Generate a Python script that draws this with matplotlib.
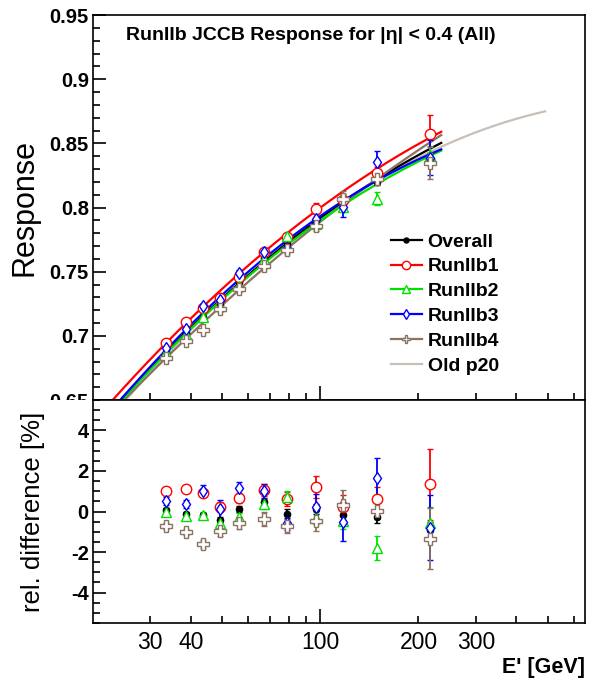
import numpy as np
import matplotlib
matplotlib.use("Agg")
import matplotlib.pyplot as plt
from matplotlib.ticker import FixedLocator, FuncFormatter, MultipleLocator, NullFormatter
from matplotlib.lines import Line2D
from matplotlib.patches import Rectangle

plt.rcParams['font.family'] = ['Liberation Sans', 'DejaVu Sans']

# energy bins [GeV]
energy = [33.5, 38.7, 43.7, 49, 56, 67, 79, 97, 117, 149, 217]

# relative difference to the overall fit [%]
diff_all = [0.07, -0.13, -0.15, -0.42, 0.13, 0.45, -0.1, 0.13, -0.15, -0.25, -0.9]
diff_b1 = [1.0, 1.1, 0.9, 0.23, 0.68, 1.05, 0.6, 1.2, 0.2, 0.6, 1.35]
diff_b2 = [0.0, -0.2, -0.15, -0.55, -0.25, 0.35, 0.7, -0.3, -0.45, -1.8, -0.57]
diff_b3 = [0.5, 0.35, 1.0, 0.1, 1.15, 1.0, -0.55, 0.2, -0.5, 1.65, -0.8]
diff_b4 = [-0.7, -1.0, -1.6, -0.95, -0.55, -0.38, -0.72, -0.45, 0.3, 0.05, -1.35]

# errors [%]
err_all = [0.1, 0.1, 0.1, 0.15, 0.15, 0.15, 0.2, 0.25, 0.3, 0.3, 0.4]
err_b1 = [0.15, 0.15, 0.2, 0.25, 0.25, 0.3, 0.35, 0.55, 0.6, 0.6, 1.75]
err_b2 = [0.1, 0.15, 0.15, 0.2, 0.2, 0.25, 0.3, 0.3, 0.4, 0.6, 0.8]
err_b3 = [0.2, 0.2, 0.3, 0.45, 0.3, 0.35, 0.35, 0.65, 0.95, 1.0, 1.6]
err_b4 = [0.15, 0.15, 0.2, 0.25, 0.3, 0.35, 0.35, 0.5, 0.75, 0.4, 1.5]

# response values
resp_all = [0.6878, 0.7022, 0.7146, 0.7244, 0.7417, 0.7609, 0.7715, 0.7906, 0.8030, 0.8197, 0.8382]
resp_b1 = [0.6942, 0.7108, 0.7221, 0.7292, 0.7457, 0.7655, 0.7769, 0.7991, 0.8058, 0.8267, 0.8572]
resp_b2 = [0.6873, 0.7017, 0.7146, 0.7235, 0.7388, 0.7602, 0.7777, 0.7872, 0.8006, 0.8070, 0.8410]
resp_b3 = [0.6907, 0.7056, 0.7229, 0.7282, 0.7492, 0.7651, 0.7681, 0.7912, 0.8002, 0.8354, 0.8390]
resp_b4 = [0.6825, 0.6961, 0.7042, 0.7206, 0.7366, 0.7546, 0.7667, 0.7860, 0.8066, 0.8222, 0.8344]

# fit parameters R = p0 + p1*d + p2*d^2, d = log10(E/100)
fit_all = [0.792, 0.185, -0.0745]
fit_b1 = [0.800, 0.187, -0.075]
fit_b2 = [0.790, 0.178, -0.085]
fit_b3 = [0.7935, 0.175, -0.095]
fit_b4 = [0.789, 0.2003, -0.0496]
fit_p20 = [0.792, 0.183, -0.091]

labels = ["Overall", "RunIIb1", "RunIIb2", "RunIIb3", "RunIIb4"]
colors = ["black", "#ff0000", "#00e000", "#0000ff", "#8b7262"]
markers = ["o", "o", "^", "d", "P"]
msizes = [4.5, 7.5, 7.5, 6.5, 8]
fills = ["black", "white", "white", "white", "white"]
resps = [resp_all, resp_b1, resp_b2, resp_b3, resp_b4]
diffs = [diff_all, diff_b1, diff_b2, diff_b3, diff_b4]
errs = [err_all, err_b1, err_b2, err_b3, err_b4]
fits = [fit_all, fit_b1, fit_b2, fit_b3, fit_b4]


def fitcurve(p, e):
    d = np.log10(e / 100.0)
    return p[0] + p[1] * d + p[2] * d ** 2


fig = plt.figure(figsize=(5.9, 6.85), dpi=100)
ax1 = fig.add_axes([0.1576, 0.416, 0.834, 0.562])
ax2 = fig.add_axes([0.1576, 0.0905, 0.834, 0.3255])
ax2.set_zorder(2)
fig.patches.append(Rectangle((0, 0), 1, 0.416, transform=fig.transFigure,
                             facecolor="white", edgecolor="none", zorder=1))

e_fit = np.logspace(np.log10(20), np.log10(235), 200)
e_p20 = np.logspace(np.log10(20), np.log10(490), 200)

ax1.plot(e_p20, fitcurve(fit_p20, e_p20), color="#c8c0b8", lw=1.6, zorder=1)
for i in [0, 4, 2, 3, 1]:
    ax1.plot(e_fit, fitcurve(fits[i], e_fit), color=colors[i], lw=1.6, zorder=2)

for i in range(5):
    r = np.array(resps[i])
    ax1.errorbar(energy, r, yerr=r * np.array(errs[i]) / 100, fmt=markers[i],
                 color=colors[i], ms=msizes[i], mfc=fills[i], mec=colors[i],
                 mew=1.0, elinewidth=1.3, capsize=2, zorder=3)
    ax2.errorbar(energy, diffs[i], yerr=errs[i], fmt=markers[i],
                 color=colors[i], ms=msizes[i], mfc=fills[i], mec=colors[i],
                 mew=1.0, elinewidth=1.3, capsize=2, zorder=3)

for ax in (ax1, ax2):
    ax.set_xscale("log")
    ax.set_xlim(20, 650)
    ax.xaxis.set_major_locator(FixedLocator([100]))
    ax.xaxis.set_minor_locator(FixedLocator([30, 40, 50, 60, 70, 80, 90, 200, 300, 400, 500, 600]))
    ax.tick_params(axis="x", which="major", direction="in", length=10, width=1.2, top=False)
    ax.tick_params(axis="x", which="minor", direction="in", length=5, width=1.2, top=False)
    ax.tick_params(axis="y", which="major", direction="in", length=9, width=1.2, right=False,
                   labelsize=14.5, pad=3)
    ax.tick_params(axis="y", which="minor", direction="in", length=5, width=1.2, right=False)
    for s in ax.spines.values():
        s.set_linewidth(1.2)

ax1.set_ylim(0.65, 0.95)
ax1.yaxis.set_major_locator(MultipleLocator(0.05))
ax1.yaxis.set_minor_locator(MultipleLocator(0.01))
ax1.yaxis.set_major_formatter(FuncFormatter(lambda v, p: ("%.2f" % v).rstrip("0")))
ax1.xaxis.set_major_formatter(NullFormatter())
ax1.xaxis.set_minor_formatter(NullFormatter())
for lab in ax1.get_yticklabels():
    lab.set_fontweight("bold")
ax1.set_ylabel("Response", fontsize=22)
ax1.yaxis.set_label_coords(-0.108, 0.5)

ax2.set_ylim(-5.5, 5.5)
ax2.yaxis.set_major_locator(MultipleLocator(2))
ax2.yaxis.set_minor_locator(MultipleLocator(0.5))
ax2.yaxis.set_major_formatter(FuncFormatter(lambda v, p: "%d" % round(v)))
for lab in ax2.get_yticklabels():
    lab.set_fontweight("bold")
ax2.xaxis.set_major_formatter(FuncFormatter(lambda v, p: "%d" % round(v)))
ax2.xaxis.set_minor_formatter(FuncFormatter(lambda v, p: "%d" % round(v) if round(v) in (30, 40, 200, 300) else ""))
ax2.tick_params(axis="x", which="both", labelsize=16.5, pad=6)
ax2.set_ylabel("rel. difference [%]", fontsize=18.5)
ax2.yaxis.set_label_coords(-0.098, 0.5)

fig.text(0.9915, 0.026, "E' [GeV]", ha="right", va="center", fontsize=15.5, fontweight="bold")

ax1.text(0.068, 0.948, "RunIIb JCCB Response for |\u03b7| < 0.4 (All)", transform=ax1.transAxes,
         ha="left", va="center", fontsize=14, fontweight="bold")

handles = []
for i in range(5):
    handles.append(Line2D([], [], color=colors[i], marker=markers[i], ms=msizes[i] * 0.8,
                          mfc=fills[i], mec=colors[i], lw=1.6))
handles.append(Line2D([], [], color="#c8c0b8", lw=1.6))
ax1.legend(handles, labels + ["Old p20"], loc="upper left", bbox_to_anchor=(0.605, 0.434),
           frameon=False, prop={"weight": "bold", "size": 14}, handlelength=1.6,
           handletextpad=0.3, labelspacing=0.37, borderaxespad=0, borderpad=0)

fig.savefig("out.png", dpi=100)
